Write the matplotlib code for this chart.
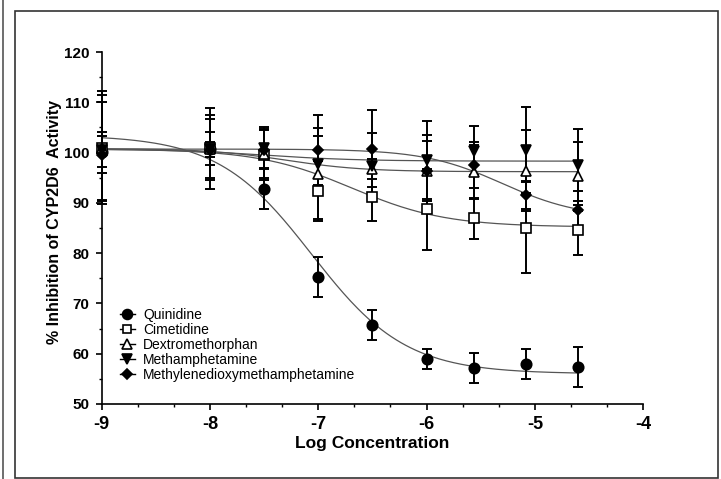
import numpy as np
import matplotlib.pyplot as plt
from matplotlib.lines import Line2D
from matplotlib.patches import Rectangle
from matplotlib.ticker import MultipleLocator

plt.rcParams['font.family'] = ['Liberation Sans', 'DejaVu Sans']
plt.rcParams['axes.unicode_minus'] = False

# log concentrations (M)
log_conc = [-9, -8, -7.5, -7, -6.5, -6, -5.56, -5.08, -4.6]

names = ['Quinidine', 'Cimetidine', 'Dextromethorphan', 'Methamphetamine',
         'Methylenedioxymethamphetamine']

# mean % activity
quinidine = [100.2, 100.8, 92.7, 75.2, 65.7, 59.0, 57.2, 57.9, 57.3]
cimetidine = [101.0, 101.0, 99.5, 92.3, 91.2, 88.7, 86.9, 85.1, 84.6]
dextromethorphan = [101.0, 100.8, 99.8, 95.8, 96.8, 96.4, 96.2, 96.4, 95.3]
methamphetamine = [100.6, 100.8, 101.0, 97.8, 97.3, 98.5, 100.4, 100.5, 97.5]
mdma = [99.6, 100.6, 100.5, 100.5, 100.8, 96.4, 97.6, 91.5, 88.6]

# error bar half-lengths
quinidine_err = [9.9, 8.1, 4.0, 4.0, 3.0, 2.0, 3.0, 3.0, 4.0]
cimetidine_err = [10.5, 6.5, 5.0, 6.0, 4.8, 8.0, 4.0, 9.0, 5.0]
dextromethorphan_err = [11.2, 5.8, 4.9, 9.0, 2.0, 6.0, 5.4, 8.0, 6.9]
methamphetamine_err = [3.4, 3.2, 4.0, 5.4, 6.5, 7.8, 4.9, 8.6, 7.1]
mdma_err = [3.6, 1.5, 1.3, 7.0, 7.7, 7.1, 4.6, 2.8, 3.7]

# sigmoid fit parameters estimated from the drawn curves
fit_top = [103.5, 100.7, 100.8, 100.7, 100.7]
fit_bottom = [56.0, 85.2, 96.2, 98.3, 87.0]
fit_logec50 = [-7.06, -6.69, -7.3, -7.5, -5.3]
fit_hill = [1.0, 1.0, 1.2, 1.0, 1.2]

means = [quinidine, cimetidine, dextromethorphan, methamphetamine, mdma]
errs = [quinidine_err, cimetidine_err, dextromethorphan_err,
        methamphetamine_err, mdma_err]
markers = ['o', 's', '^', 'v', 'D']
faces = ['black', 'white', 'white', 'black', 'black']
msizes = [7.5, 6.5, 7, 7, 5.5]

fig = plt.figure(figsize=(7.21, 4.79), dpi=100)
ax = fig.add_axes([0.141, 0.1566, 0.751, 0.7348])

xs = np.linspace(log_conc[0], log_conc[-1], 200)
for i in range(5):
    curve = fit_bottom[i] + (fit_top[i] - fit_bottom[i]) / (
        1 + 10 ** ((xs - fit_logec50[i]) * fit_hill[i]))
    ax.plot(xs, curve, color='#555555', lw=0.9, zorder=2)

for i in range(5):
    eb = ax.errorbar(log_conc, means[i], yerr=errs[i], fmt='none',
                     ecolor='black', elinewidth=1.4, capsize=3.6,
                     capthick=1.4, zorder=3)
    for art in eb.lines[1] + eb.lines[2]:
        art.set_clip_on(False)
for i in range(5):
    ax.plot(log_conc, means[i], ls='none', marker=markers[i],
            ms=msizes[i], mfc=faces[i], mec='black', mew=1.2, zorder=4,
            clip_on=False)

ax.set_xlim(-9, -4)
ax.set_ylim(50, 120)
ax.xaxis.set_major_locator(MultipleLocator(1))
ax.xaxis.set_minor_locator(MultipleLocator(1 / 3))
ax.yaxis.set_major_locator(MultipleLocator(10))
ax.yaxis.set_minor_locator(MultipleLocator(5))
for s in ['top', 'right']:
    ax.spines[s].set_visible(False)
for s in ['left', 'bottom']:
    ax.spines[s].set_linewidth(1.2)
ax.tick_params(which='major', direction='out', length=4, width=1.2)
ax.tick_params(which='minor', direction='out', length=2.5, width=1.0)
ax.tick_params(axis='x', pad=5)
ax.tick_params(axis='y', pad=5)
for lab in ax.get_xticklabels():
    lab.set_fontsize(13)
    lab.set_fontweight('bold')
for lab in ax.get_yticklabels():
    lab.set_family(['Liberation Sans Narrow', 'Liberation Sans'])
    lab.set_fontsize(11)
    lab.set_fontweight('bold')

ax.set_xlabel('Log Concentration', fontsize=12.5, fontweight='bold')
ax.set_ylabel('% Inhibition of CYP2D6  Activity', fontsize=11.5,
              fontweight='bold')
ax.xaxis.set_label_coords(0.5, -0.092)
ax.yaxis.set_label_coords(-0.073, 0.517)

handles = [Line2D([], [], color='black', lw=1.0, marker=markers[i],
                  ms=msizes[i] * 0.95, mfc=faces[i], mec='black', mew=1.2)
           for i in range(5)]
ax.legend(handles, names, loc='lower left', bbox_to_anchor=(0.015, 0.035),
          frameon=False, fontsize=10, handlelength=1.1, handletextpad=0.6,
          labelspacing=0.08, borderaxespad=0.3)

# outer frame of the figure
fig.patches.append(Rectangle((15 / 721, 1 / 479), 703 / 721, 467 / 479,
                             transform=fig.transFigure, fill=False,
                             edgecolor='#333333', lw=1.2))
fig.lines.append(Line2D([3 / 721, 3 / 721], [0, 1], transform=fig.transFigure,
                        color='#555555', lw=1.2))

fig.savefig('out.png', dpi=100)
